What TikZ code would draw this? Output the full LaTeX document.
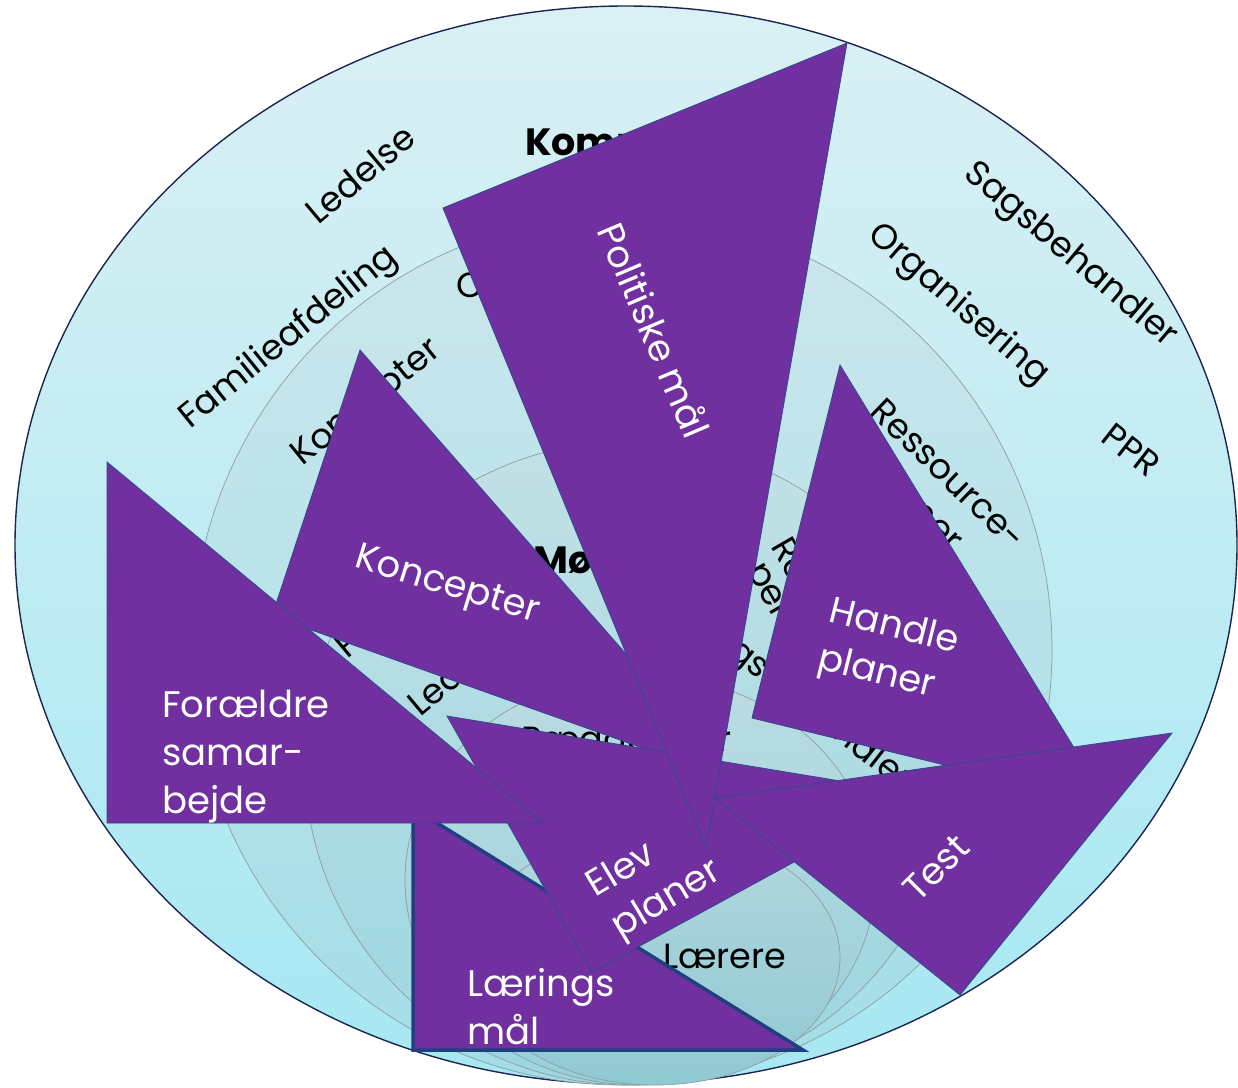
\documentclass[tikz,border=0pt]{standalone}
\usepackage{fontspec}
\setmainfont{Poppins}
\definecolor{purp}{HTML}{7030A0}
\definecolor{triline}{HTML}{2E4A8C}
\definecolor{lline}{HTML}{1F3F7F}
\definecolor{rimline}{HTML}{1B2550}
\definecolor{discline}{HTML}{8E9DA1}
\definecolor{eatop}{HTML}{DAF0F4}
\definecolor{eabot}{HTML}{A6E8F2}
\definecolor{ebtop}{HTML}{CBE7EC}
\definecolor{ebbot}{HTML}{A3DDE7}
\definecolor{ectop}{HTML}{C2E1E6}
\definecolor{ecbot}{HTML}{9CD6E0}
\definecolor{edtop}{HTML}{BBDCE2}
\definecolor{edbot}{HTML}{97CFD9}
\definecolor{eetop}{HTML}{B3D7DD}
\definecolor{eebot}{HTML}{90C9D3}
\tikzset{
  tri/.style={fill=purp, draw=triline, line width=0.8pt, line join=miter},
  disc/.style={draw=discline, line width=0.7pt},
  wlbl/.style={text=white, font=\fontsize{37}{48}\selectfont, inner sep=0pt},
  blbl/.style={text=black, font=\fontsize{35}{44}\selectfont, inner sep=0pt},
  ttl/.style={text=black, font=\bfseries\fontsize{38}{46}\selectfont, inner sep=0pt}
}
\begin{document}
\begin{tikzpicture}[x=1pt,y=-1pt]
\useasboundingbox (0,0) rectangle (1238,1087);
% stacked discs
\path[draw=rimline, line width=1.4pt, top color=eatop, bottom color=eabot] (626,545) ellipse [x radius=611pt, y radius=539pt];
\path[disc, top color=ebtop, bottom color=ebbot] (622,650) ellipse [x radius=430pt, y radius=435pt];
\path[disc, top color=ectop, bottom color=ecbot] (630,763) ellipse [x radius=325pt, y radius=322pt];
\path[disc, top color=edtop, bottom color=edbot] (640,880) ellipse [x radius=235pt, y radius=205pt];
\path[disc, top color=eetop, bottom color=eebot] (655,958) ellipse [x radius=185pt, y radius=127pt];
% ring labels
\node[ttl, anchor=base west] (kommune) at (525,155) {Kommune};
\node[blbl, rotate=40] (ledelse) at (360,174) {Ledelse};
\node[blbl, rotate=39] (famil) at (289,338) {Familieafdeling};
\node[blbl, rotate=-40] (sagsb) at (1070,256) {Sagsbehandler};
\node[blbl, rotate=-41] (organ) at (958,305) {Organisering};
\node[blbl, rotate=-38] (ppr) at (1131,450) {PPR};
\node[blbl, anchor=base west] (center) at (456,297) {Center};
\node[blbl, rotate=39] (koncring) at (368,404) {Koncepter};
\node[blbl, rotate=-44, align=left] (ressource) at (930,493) {Ressource-\\personer};
\node[ttl, anchor=base west] (moeder) at (533,573) {Møder};
\node[blbl, rotate=40, anchor=base west] (ppr3) at (347,660) {PPR};
\node[blbl, rotate=40, anchor=base west] (led3) at (420,718) {Ledelse};
\node[blbl, rotate=-60, anchor=base west] (res3a) at (770,546) {Ressource-};
\node[blbl, rotate=-60, anchor=base west] (res3b) at (746,570) {personer};
\node[blbl, rotate=-38, anchor=base west] (sags3) at (691,627) {Sagsbehandler};
\node[blbl, anchor=base west] (paed) at (521,751) {Pædagoger};
\node[blbl, anchor=base west] (laerere) at (663,968) {Lærere};
% triangles
\path[tri] (360,350) -- (272,616) -- (738,782) -- cycle;
\node[wlbl, rotate=-17] (koncepter) at (447,587) {Koncepter};
\path[tri, draw=lline, line width=3.5pt] (413,808) -- (413,1050) -- (803,1050) -- cycle;
\node[wlbl, anchor=north west, align=left] (laerings) at (467,968) {Lærings\\mål};
\path[tri] (447,716) -- (592,972) -- (919,794) -- cycle;
\node[wlbl, rotate=31, align=left] (elev) at (655,880) {Elev\\planer};
\path[tri] (107,462) -- (107,823) -- (543,823) -- cycle;
\node[wlbl, anchor=north west, align=left] (foraeldre) at (162,690) {Forældre\\samar-\\bejde};
\path[tri] (443,208) -- (847,43) -- (706,848) -- cycle;
\node[wlbl, rotate=-67] (politiske) at (655,330) {Politiske mål};
\path[tri] (840,365) -- (752,718) -- (1109,805) -- cycle;
\node[wlbl, rotate=-14, align=left] (handle) at (888,652) {Handle\\planer};
\path[tri] (715,798) -- (1172,733) -- (960,995) -- cycle;
\node[wlbl, rotate=45] (test) at (936,868) {Test};
\end{tikzpicture}
\end{document}
